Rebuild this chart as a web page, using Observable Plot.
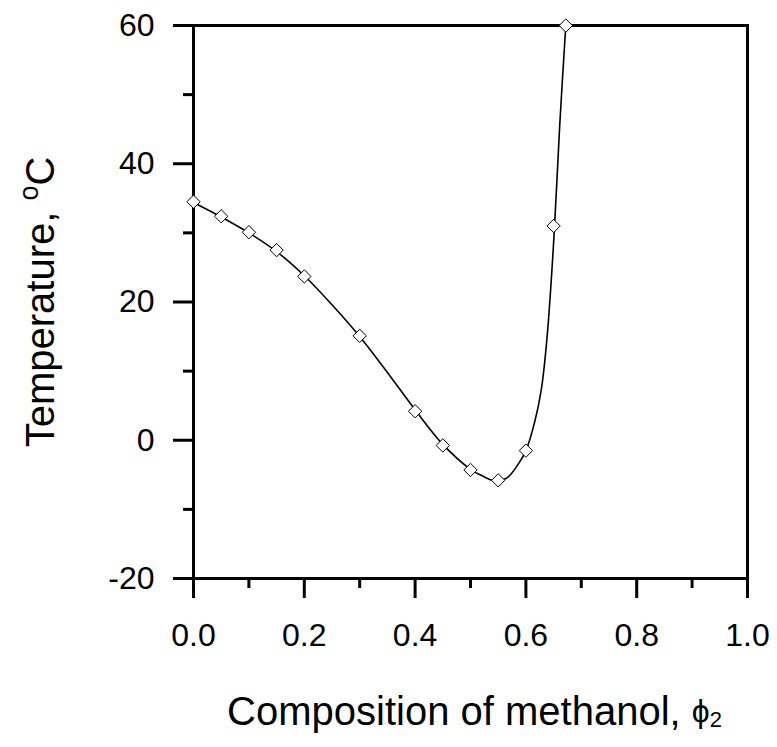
<!DOCTYPE html>
<html><head><meta charset="utf-8">
<script src="https://cdn.jsdelivr.net/npm/d3@7"></script>
<script src="https://cdn.jsdelivr.net/npm/@observablehq/plot@0.6"></script>
<style>body{margin:0;background:#fff}</style>
</head><body><div id="chart"></div>
<script>
// Measured data points (diamonds)
const phi  = [0, 0.05, 0.1, 0.15, 0.2, 0.3, 0.4, 0.45, 0.5, 0.55, 0.6, 0.65, 0.672];
const temp = [34.5, 32.4, 30.1, 27.5, 23.7, 15.1, 4.2, -0.75, -4.3, -5.8, -1.5, 31.0, 60.0];
// Fitted curve
const fitPhi  = [0, 0.05, 0.1, 0.15, 0.2, 0.25, 0.3, 0.35, 0.4, 0.45, 0.5, 0.52, 0.545, 0.565, 0.585, 0.6, 0.616, 0.628, 0.638, 0.6505, 0.661, 0.672];
const fitTemp = [34.4, 32.3, 30.0, 27.3, 23.8, 19.6, 15.0, 9.8, 4.4, -0.6, -4.2, -5.1, -5.9, -5.5, -3.6, -1.5, 2.7, 7.45, 14.7, 29.2, 45.5, 60];
// Ticks
const xMajor = [0, 0.2, 0.4, 0.6, 0.8, 1.0];
const xMinor = [0.1, 0.3, 0.5, 0.7, 0.9];
const yMajor = [-20, 0, 20, 40, 60];
const yMinor = [-10, 10, 30, 50];
const xTitle = "Composition of methanol, ϕ2";
const yTitle = "Temperature, oC";

const points = phi.map((p, i) => ({p, t: temp[i]}));
const fit = fitPhi.map((p, i) => ({p, t: fitTemp[i]}));

const svg = Plot.plot({
  width: 777, height: 747,
  marginLeft: 193, marginRight: 30, marginTop: 25, marginBottom: 169,
  x: {domain: [0, 1]},
  y: {domain: [-20, 60]},
  style: {fontFamily: "'Liberation Sans', Arial, sans-serif", fontSize: "32px", background: "white", color: "black"},
  marks: [
    Plot.line(fit, {x: "p", y: "t", curve: "catmull-rom", stroke: "black", strokeWidth: 1.6}),
    Plot.frame({stroke: "black", strokeWidth: 3}),
    Plot.axisX(xMajor, {tickSize: 20, strokeWidth: 3, tickPadding: 25, tickFormat: d3.format(".1f"), fontSize: 32, label: null}),
    Plot.axisX(xMinor, {tickSize: 10, strokeWidth: 3, fill: null, label: null}),
    Plot.axisY(yMajor, {tickSize: 20, strokeWidth: 3, tickPadding: 19, tickFormat: (d) => `${d}`, fontSize: 32, label: null}),
    Plot.axisY(yMinor, {tickSize: 10, strokeWidth: 3, fill: null, label: null}),
    Plot.dot(points, {x: "p", y: "t", symbol: "diamond2", r: 6, fill: "white", stroke: "black", strokeWidth: 1}),
    Plot.text([xTitle], {frameAnchor: "bottom", textAnchor: "middle", lineAnchor: "middle", dy: 134, dx: 4, fontSize: 40}),
    Plot.text([yTitle], {frameAnchor: "left", textAnchor: "middle", lineAnchor: "middle", dx: -152, rotate: -90, fontSize: 40})
  ]
});

function rich(el, parts) {
  el.textContent = "";
  const s = d3.select(el);
  for (const p of parts) {
    const t = s.append("tspan").text(p.text);
    if (p.size) t.attr("font-size", p.size);
    if (p.dy) t.attr("dy", p.dy);
  }
}
d3.select(svg).selectAll("text").each(function() {
  if (this.textContent === xTitle) {
    rich(this, [{text: "Composition of methanol, "}, {text: "ϕ", size: 32, dy: -3}, {text: "2", size: 22, dy: 5}]);
  } else if (this.textContent === yTitle) {
    rich(this, [{text: "Temperature, "}, {text: "o", size: 27, dy: -16}, {text: "C", dy: 16}]);
  }
});
// heavier frame and ticks, as in the reference
d3.select(svg).selectAll('g[aria-label="frame"], g[aria-label="frame"] rect, g[aria-label="x-axis tick"], g[aria-label="y-axis tick"], g[aria-label="x-axis tick"] path, g[aria-label="y-axis tick"] path')
  .attr("stroke-width", 3);
document.getElementById("chart").appendChild(svg);
</script>
</body></html>
